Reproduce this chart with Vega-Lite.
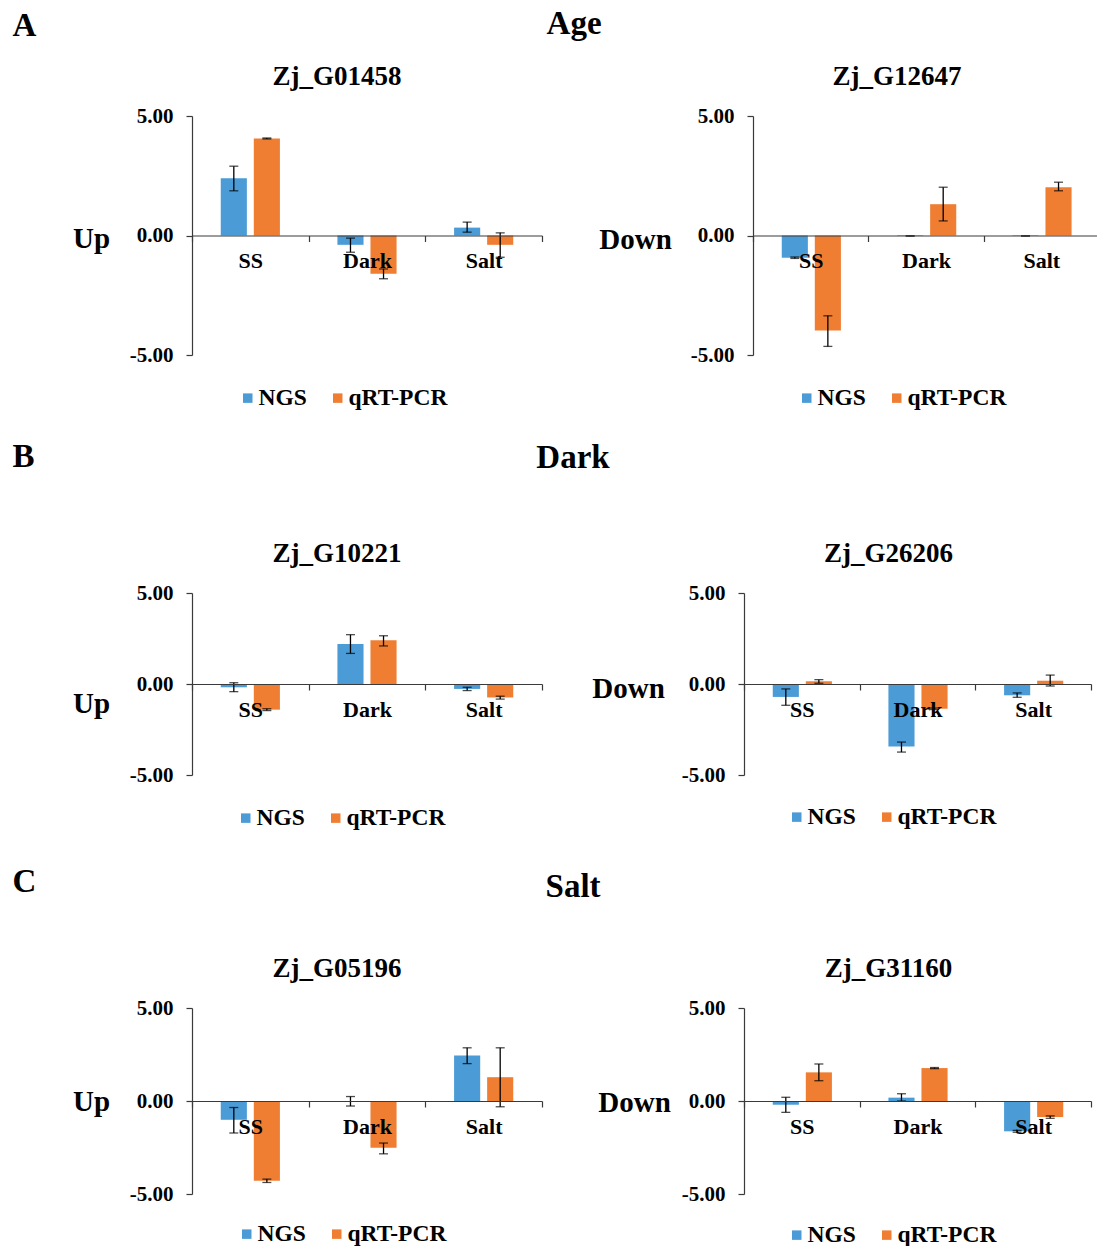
{
  "$schema": "https://vega.github.io/schema/vega-lite/v6.json",
  "background": "white",
  "padding": {"left": 12, "top": 8, "right": 0, "bottom": 0},
  "config": {
    "font": "Liberation Serif",
    "view": {"stroke": null},
    "title": {"font": "Liberation Serif", "fontWeight": "bold", "color": "black"},
    "axis": {
      "labelFont": "Liberation Serif", "labelFontWeight": "bold", "labelColor": "black",
      "titleFont": "Liberation Serif", "titleFontWeight": "bold", "titleColor": "black",
      "domainColor": "#3a3a3a", "tickColor": "#3a3a3a", "domainWidth": 1.2, "tickWidth": 1.2, "grid": false
    },
    "legend": {
      "labelFont": "Liberation Serif", "labelFontWeight": "bold", "labelColor": "black", "labelFontSize": 23.5,
      "symbolType": "square", "symbolSize": 90, "symbolStrokeWidth": 0, "labelOffset": -1, "columnPadding": 19
    }
  },
  "datasets": {
    "g01458": [
      {"cond": "SS", "series": "NGS", "value": 2.40, "lo": 1.87, "hi": 2.90},
      {"cond": "SS", "series": "qRT-PCR", "value": 4.06, "lo": 4.04, "hi": 4.08},
      {"cond": "Dark", "series": "NGS", "value": -0.39, "lo": -0.70, "hi": -0.11},
      {"cond": "Dark", "series": "qRT-PCR", "value": -1.60, "lo": -1.81, "hi": -1.40},
      {"cond": "Salt", "series": "NGS", "value": 0.33, "lo": 0.14, "hi": 0.56},
      {"cond": "Salt", "series": "qRT-PCR", "value": -0.39, "lo": -0.91, "hi": 0.11}
    ],
    "g12647": [
      {"cond": "SS", "series": "NGS", "value": -0.93, "lo": -0.96, "hi": -0.90},
      {"cond": "SS", "series": "qRT-PCR", "value": -3.97, "lo": -4.64, "hi": -3.36},
      {"cond": "Dark", "series": "NGS", "value": -0.02, "lo": -0.03, "hi": -0.01},
      {"cond": "Dark", "series": "qRT-PCR", "value": 1.31, "lo": 0.61, "hi": 2.02},
      {"cond": "Salt", "series": "NGS", "value": -0.02, "lo": -0.03, "hi": -0.01},
      {"cond": "Salt", "series": "qRT-PCR", "value": 2.02, "lo": 1.87, "hi": 2.23}
    ],
    "g10221": [
      {"cond": "SS", "series": "NGS", "value": -0.18, "lo": -0.42, "hi": 0.07},
      {"cond": "SS", "series": "qRT-PCR", "value": -1.41, "lo": -1.46, "hi": -1.36},
      {"cond": "Dark", "series": "NGS", "value": 2.20, "lo": 1.68, "hi": 2.71},
      {"cond": "Dark", "series": "qRT-PCR", "value": 2.40, "lo": 2.09, "hi": 2.65},
      {"cond": "Salt", "series": "NGS", "value": -0.27, "lo": -0.36, "hi": -0.18},
      {"cond": "Salt", "series": "qRT-PCR", "value": -0.74, "lo": -0.83, "hi": -0.67}
    ],
    "g26206": [
      {"cond": "SS", "series": "NGS", "value": -0.71, "lo": -1.17, "hi": -0.27},
      {"cond": "SS", "series": "qRT-PCR", "value": 0.15, "lo": 0.04, "hi": 0.24},
      {"cond": "Dark", "series": "NGS", "value": -3.44, "lo": -3.74, "hi": -3.19},
      {"cond": "Dark", "series": "qRT-PCR", "value": -1.36, "lo": -1.40, "hi": -1.32},
      {"cond": "Salt", "series": "NGS", "value": -0.62, "lo": -0.73, "hi": -0.49},
      {"cond": "Salt", "series": "qRT-PCR", "value": 0.18, "lo": -0.11, "hi": 0.49}
    ],
    "g05196": [
      {"cond": "SS", "series": "NGS", "value": -1.01, "lo": -1.72, "hi": -0.35},
      {"cond": "SS", "series": "qRT-PCR", "value": -4.29, "lo": -4.38, "hi": -4.20},
      {"cond": "Dark", "series": "NGS", "value": -0.02, "lo": -0.27, "hi": 0.24},
      {"cond": "Dark", "series": "qRT-PCR", "value": -2.51, "lo": -2.84, "hi": -2.26},
      {"cond": "Salt", "series": "NGS", "value": 2.44, "lo": 2.01, "hi": 2.86},
      {"cond": "Salt", "series": "qRT-PCR", "value": 1.28, "lo": -0.31, "hi": 2.86}
    ],
    "g31160": [
      {"cond": "SS", "series": "NGS", "value": -0.20, "lo": -0.61, "hi": 0.20},
      {"cond": "SS", "series": "qRT-PCR", "value": 1.54, "lo": 1.09, "hi": 1.99},
      {"cond": "Dark", "series": "NGS", "value": 0.18, "lo": 0.00, "hi": 0.39},
      {"cond": "Dark", "series": "qRT-PCR", "value": 1.77, "lo": 1.74, "hi": 1.80},
      {"cond": "Salt", "series": "NGS", "value": -1.63, "lo": -1.68, "hi": -1.58},
      {"cond": "Salt", "series": "qRT-PCR", "value": -0.86, "lo": -0.93, "hi": -0.80}
    ]
  },
  "spacing": 31,
  "resolve": {"scale": {"color": "independent", "x": "independent", "y": "independent"}, "legend": {"color": "independent"}},
  "vconcat": [
    {
      "title": {"text": "A", "anchor": "start", "fontSize": 33, "dx": -60, "dy": 35, "offset": 0},
      "resolve": {"scale": {"color": "independent", "x": "independent", "y": "independent"}, "legend": {"color": "independent"}},
      "vconcat": [
        {
          "title": {"text": "Age", "anchor": "middle", "fontSize": 33, "dx": -12, "offset": 22},
          "spacing": 55,
          "resolve": {"scale": {"color": "independent", "x": "independent", "y": "independent"}, "legend": {"color": "independent"}},
          "hconcat": [
            {
              "width": 350, "height": 239,
              "title": {"text": "Zj_G01458", "fontSize": 27, "dx": -30, "offset": 14, "anchor": "middle"},
              "data": {"name": "g01458"},
              "layer": [
                {"mark": {"type": "bar"}, "encoding": {
                  "x": {"field": "cond", "type": "nominal", "sort": ["SS", "Dark", "Salt"], "scale": {"paddingInner": 0, "paddingOuter": 0},
                        "axis": {"title": null, "orient": "bottom", "offset": -119.5, "labelAngle": 0, "labelFontSize": 22, "tickBand": "extent", "tickSize": 6, "labelPadding": 9, "zindex": 1}},
                  "xOffset": {"field": "series", "type": "nominal", "sort": ["NGS", "qRT-PCR"], "scale": {"paddingInner": 0.21, "paddingOuter": 0.87}},
                  "y": {"field": "value", "type": "quantitative", "title": "Up", "scale": {"domain": [-5, 5], "nice": false, "zero": false},
                        "axis": {"values": [-5, 0, 5], "format": ".2f", "labelExpr": "replace(datum.label, '−', '-')", "labelFontSize": 21, "labelPadding": 13, "tickSize": 6, "titleAngle": 0, "titleFontSize": 29, "titleX": -101, "titleY": 122, "titleAlign": "center", "titleBaseline": "middle"}},
                  "color": {"field": "series", "type": "nominal", "scale": {"domain": ["NGS", "qRT-PCR"], "range": ["#4B9BD6", "#EF7E33"]},
                            "legend": {"title": null, "orient": "none", "direction": "horizontal", "legendX": 44, "legendY": 270}}
                }},
                {"mark": {"type": "rule", "color": "black", "strokeWidth": 1.3}, "encoding": {
                  "x": {"field": "cond", "type": "nominal", "sort": ["SS", "Dark", "Salt"]},
                  "xOffset": {"field": "series", "type": "nominal", "sort": ["NGS", "qRT-PCR"]},
                  "y": {"field": "lo", "type": "quantitative", "title": "Up"}, "y2": {"field": "hi"}}},
                {"mark": {"type": "tick", "color": "black", "thickness": 1.3, "size": 9}, "encoding": {
                  "x": {"field": "cond", "type": "nominal", "sort": ["SS", "Dark", "Salt"]},
                  "xOffset": {"field": "series", "type": "nominal", "sort": ["NGS", "qRT-PCR"]},
                  "y": {"field": "lo", "type": "quantitative", "title": "Up"}}},
                {"mark": {"type": "tick", "color": "black", "thickness": 1.3, "size": 9}, "encoding": {
                  "x": {"field": "cond", "type": "nominal", "sort": ["SS", "Dark", "Salt"]},
                  "xOffset": {"field": "series", "type": "nominal", "sort": ["NGS", "qRT-PCR"]},
                  "y": {"field": "hi", "type": "quantitative", "title": "Up"}}}
              ]
            },
            {
              "width": 346, "height": 239,
              "title": {"text": "Zj_G12647", "fontSize": 27, "dx": -29, "offset": 14, "anchor": "middle"},
              "data": {"name": "g12647"},
              "layer": [
                {"mark": {"type": "bar"}, "encoding": {
                  "x": {"field": "cond", "type": "nominal", "sort": ["SS", "Dark", "Salt"], "scale": {"paddingInner": 0, "paddingOuter": 0},
                        "axis": {"title": null, "orient": "bottom", "offset": -119.5, "labelAngle": 0, "labelFontSize": 22, "tickBand": "extent", "tickSize": 6, "labelPadding": 9, "zindex": 1}},
                  "xOffset": {"field": "series", "type": "nominal", "sort": ["NGS", "qRT-PCR"], "scale": {"paddingInner": 0.21, "paddingOuter": 0.87}},
                  "y": {"field": "value", "type": "quantitative", "title": "Down", "scale": {"domain": [-5, 5], "nice": false, "zero": false},
                        "axis": {"values": [-5, 0, 5], "format": ".2f", "labelExpr": "replace(datum.label, '−', '-')", "labelFontSize": 21, "labelPadding": 13, "tickSize": 6, "titleAngle": 0, "titleFontSize": 29, "titleX": -118, "titleY": 123, "titleAlign": "center", "titleBaseline": "middle"}},
                  "color": {"field": "series", "type": "nominal", "scale": {"domain": ["NGS", "qRT-PCR"], "range": ["#4B9BD6", "#EF7E33"]},
                            "legend": {"title": null, "orient": "none", "direction": "horizontal", "legendX": 42, "legendY": 270}}
                }},
                {"mark": {"type": "rule", "color": "black", "strokeWidth": 1.3}, "encoding": {
                  "x": {"field": "cond", "type": "nominal", "sort": ["SS", "Dark", "Salt"]},
                  "xOffset": {"field": "series", "type": "nominal", "sort": ["NGS", "qRT-PCR"]},
                  "y": {"field": "lo", "type": "quantitative", "title": "Down"}, "y2": {"field": "hi"}}},
                {"mark": {"type": "tick", "color": "black", "thickness": 1.3, "size": 9}, "encoding": {
                  "x": {"field": "cond", "type": "nominal", "sort": ["SS", "Dark", "Salt"]},
                  "xOffset": {"field": "series", "type": "nominal", "sort": ["NGS", "qRT-PCR"]},
                  "y": {"field": "lo", "type": "quantitative", "title": "Down"}}},
                {"mark": {"type": "tick", "color": "black", "thickness": 1.3, "size": 9}, "encoding": {
                  "x": {"field": "cond", "type": "nominal", "sort": ["SS", "Dark", "Salt"]},
                  "xOffset": {"field": "series", "type": "nominal", "sort": ["NGS", "qRT-PCR"]},
                  "y": {"field": "hi", "type": "quantitative", "title": "Down"}}}
              ]
            }
          ]
        }
      ]
    },
    {
      "title": {"text": "B", "anchor": "start", "fontSize": 33, "dx": -60, "dy": 32, "offset": 0},
      "resolve": {"scale": {"color": "independent", "x": "independent", "y": "independent"}, "legend": {"color": "independent"}},
      "vconcat": [
        {
          "title": {"text": "Dark", "anchor": "middle", "fontSize": 33, "dx": -9, "offset": 65},
          "spacing": 48,
          "resolve": {"scale": {"color": "independent", "x": "independent", "y": "independent"}, "legend": {"color": "independent"}},
          "hconcat": [
            {
              "width": 350, "height": 182,
              "title": {"text": "Zj_G10221", "fontSize": 27, "dx": -30, "offset": 14, "anchor": "middle"},
              "data": {"name": "g10221"},
              "layer": [
                {"mark": {"type": "bar"}, "encoding": {
                  "x": {"field": "cond", "type": "nominal", "sort": ["SS", "Dark", "Salt"], "scale": {"paddingInner": 0, "paddingOuter": 0},
                        "axis": {"title": null, "orient": "bottom", "offset": -91, "labelAngle": 0, "labelFontSize": 22, "tickBand": "extent", "tickSize": 6, "labelPadding": 9, "zindex": 1}},
                  "xOffset": {"field": "series", "type": "nominal", "sort": ["NGS", "qRT-PCR"], "scale": {"paddingInner": 0.21, "paddingOuter": 0.87}},
                  "y": {"field": "value", "type": "quantitative", "title": "Up", "scale": {"domain": [-5, 5], "nice": false, "zero": false},
                        "axis": {"values": [-5, 0, 5], "format": ".2f", "labelExpr": "replace(datum.label, '−', '-')", "labelFontSize": 21, "labelPadding": 13, "tickSize": 6, "titleAngle": 0, "titleFontSize": 29, "titleX": -101, "titleY": 110, "titleAlign": "center", "titleBaseline": "middle"}},
                  "color": {"field": "series", "type": "nominal", "scale": {"domain": ["NGS", "qRT-PCR"], "range": ["#4B9BD6", "#EF7E33"]},
                            "legend": {"title": null, "orient": "none", "direction": "horizontal", "padding": 5, "legendX": 37, "legendY": 208}}
                }},
                {"mark": {"type": "rule", "color": "black", "strokeWidth": 1.3}, "encoding": {
                  "x": {"field": "cond", "type": "nominal", "sort": ["SS", "Dark", "Salt"]},
                  "xOffset": {"field": "series", "type": "nominal", "sort": ["NGS", "qRT-PCR"]},
                  "y": {"field": "lo", "type": "quantitative", "title": "Up"}, "y2": {"field": "hi"}}},
                {"mark": {"type": "tick", "color": "black", "thickness": 1.3, "size": 9}, "encoding": {
                  "x": {"field": "cond", "type": "nominal", "sort": ["SS", "Dark", "Salt"]},
                  "xOffset": {"field": "series", "type": "nominal", "sort": ["NGS", "qRT-PCR"]},
                  "y": {"field": "lo", "type": "quantitative", "title": "Up"}}},
                {"mark": {"type": "tick", "color": "black", "thickness": 1.3, "size": 9}, "encoding": {
                  "x": {"field": "cond", "type": "nominal", "sort": ["SS", "Dark", "Salt"]},
                  "xOffset": {"field": "series", "type": "nominal", "sort": ["NGS", "qRT-PCR"]},
                  "y": {"field": "hi", "type": "quantitative", "title": "Up"}}}
              ]
            },
            {
              "width": 347, "height": 182,
              "title": {"text": "Zj_G26206", "fontSize": 27, "dx": -29, "offset": 14, "anchor": "middle"},
              "data": {"name": "g26206"},
              "layer": [
                {"mark": {"type": "bar"}, "encoding": {
                  "x": {"field": "cond", "type": "nominal", "sort": ["SS", "Dark", "Salt"], "scale": {"paddingInner": 0, "paddingOuter": 0},
                        "axis": {"title": null, "orient": "bottom", "offset": -91, "labelAngle": 0, "labelFontSize": 22, "tickBand": "extent", "tickSize": 6, "labelPadding": 9, "zindex": 1}},
                  "xOffset": {"field": "series", "type": "nominal", "sort": ["NGS", "qRT-PCR"], "scale": {"paddingInner": 0.21, "paddingOuter": 0.87}},
                  "y": {"field": "value", "type": "quantitative", "title": "Down", "scale": {"domain": [-5, 5], "nice": false, "zero": false},
                        "axis": {"values": [-5, 0, 5], "format": ".2f", "labelExpr": "replace(datum.label, '−', '-')", "labelFontSize": 21, "labelPadding": 13, "tickSize": 6, "titleAngle": 0, "titleFontSize": 29, "titleX": -116, "titleY": 95, "titleAlign": "center", "titleBaseline": "middle"}},
                  "color": {"field": "series", "type": "nominal", "scale": {"domain": ["NGS", "qRT-PCR"], "range": ["#4B9BD6", "#EF7E33"]},
                            "legend": {"title": null, "orient": "none", "direction": "horizontal", "padding": 5, "legendX": 36, "legendY": 207}}
                }},
                {"mark": {"type": "rule", "color": "black", "strokeWidth": 1.3}, "encoding": {
                  "x": {"field": "cond", "type": "nominal", "sort": ["SS", "Dark", "Salt"]},
                  "xOffset": {"field": "series", "type": "nominal", "sort": ["NGS", "qRT-PCR"]},
                  "y": {"field": "lo", "type": "quantitative", "title": "Down"}, "y2": {"field": "hi"}}},
                {"mark": {"type": "tick", "color": "black", "thickness": 1.3, "size": 9}, "encoding": {
                  "x": {"field": "cond", "type": "nominal", "sort": ["SS", "Dark", "Salt"]},
                  "xOffset": {"field": "series", "type": "nominal", "sort": ["NGS", "qRT-PCR"]},
                  "y": {"field": "lo", "type": "quantitative", "title": "Down"}}},
                {"mark": {"type": "tick", "color": "black", "thickness": 1.3, "size": 9}, "encoding": {
                  "x": {"field": "cond", "type": "nominal", "sort": ["SS", "Dark", "Salt"]},
                  "xOffset": {"field": "series", "type": "nominal", "sort": ["NGS", "qRT-PCR"]},
                  "y": {"field": "hi", "type": "quantitative", "title": "Down"}}}
              ]
            }
          ]
        }
      ]
    },
    {
      "title": {"text": "C", "anchor": "start", "fontSize": 33, "dx": -60, "dy": 28, "offset": 0},
      "resolve": {"scale": {"color": "independent", "x": "independent", "y": "independent"}, "legend": {"color": "independent"}},
      "vconcat": [
        {
          "title": {"text": "Salt", "anchor": "middle", "fontSize": 33, "dx": -9, "offset": 51},
          "spacing": 54,
          "resolve": {"scale": {"color": "independent", "x": "independent", "y": "independent"}, "legend": {"color": "independent"}},
          "hconcat": [
            {
              "width": 350, "height": 186,
              "title": {"text": "Zj_G05196", "fontSize": 27, "dx": -30, "offset": 14, "anchor": "middle"},
              "data": {"name": "g05196"},
              "layer": [
                {"mark": {"type": "bar"}, "encoding": {
                  "x": {"field": "cond", "type": "nominal", "sort": ["SS", "Dark", "Salt"], "scale": {"paddingInner": 0, "paddingOuter": 0},
                        "axis": {"title": null, "orient": "bottom", "offset": -93, "labelAngle": 0, "labelFontSize": 22, "tickBand": "extent", "tickSize": 6, "labelPadding": 9, "zindex": 1}},
                  "xOffset": {"field": "series", "type": "nominal", "sort": ["NGS", "qRT-PCR"], "scale": {"paddingInner": 0.21, "paddingOuter": 0.87}},
                  "y": {"field": "value", "type": "quantitative", "title": "Up", "scale": {"domain": [-5, 5], "nice": false, "zero": false},
                        "axis": {"values": [-5, 0, 5], "format": ".2f", "labelExpr": "replace(datum.label, '−', '-')", "labelFontSize": 21, "labelPadding": 13, "tickSize": 6, "titleAngle": 0, "titleFontSize": 29, "titleX": -101, "titleY": 93, "titleAlign": "center", "titleBaseline": "middle"}},
                  "color": {"field": "series", "type": "nominal", "scale": {"domain": ["NGS", "qRT-PCR"], "range": ["#4B9BD6", "#EF7E33"]},
                            "legend": {"title": null, "orient": "none", "direction": "horizontal", "legendX": 43, "legendY": 214}}
                }},
                {"mark": {"type": "rule", "color": "black", "strokeWidth": 1.3}, "encoding": {
                  "x": {"field": "cond", "type": "nominal", "sort": ["SS", "Dark", "Salt"]},
                  "xOffset": {"field": "series", "type": "nominal", "sort": ["NGS", "qRT-PCR"]},
                  "y": {"field": "lo", "type": "quantitative", "title": "Up"}, "y2": {"field": "hi"}}},
                {"mark": {"type": "tick", "color": "black", "thickness": 1.3, "size": 9}, "encoding": {
                  "x": {"field": "cond", "type": "nominal", "sort": ["SS", "Dark", "Salt"]},
                  "xOffset": {"field": "series", "type": "nominal", "sort": ["NGS", "qRT-PCR"]},
                  "y": {"field": "lo", "type": "quantitative", "title": "Up"}}},
                {"mark": {"type": "tick", "color": "black", "thickness": 1.3, "size": 9}, "encoding": {
                  "x": {"field": "cond", "type": "nominal", "sort": ["SS", "Dark", "Salt"]},
                  "xOffset": {"field": "series", "type": "nominal", "sort": ["NGS", "qRT-PCR"]},
                  "y": {"field": "hi", "type": "quantitative", "title": "Up"}}}
              ]
            },
            {
              "width": 347, "height": 186,
              "title": {"text": "Zj_G31160", "fontSize": 27, "dx": -29, "offset": 14, "anchor": "middle"},
              "data": {"name": "g31160"},
              "layer": [
                {"mark": {"type": "bar"}, "encoding": {
                  "x": {"field": "cond", "type": "nominal", "sort": ["SS", "Dark", "Salt"], "scale": {"paddingInner": 0, "paddingOuter": 0},
                        "axis": {"title": null, "orient": "bottom", "offset": -93, "labelAngle": 0, "labelFontSize": 22, "tickBand": "extent", "tickSize": 6, "labelPadding": 9, "zindex": 1}},
                  "xOffset": {"field": "series", "type": "nominal", "sort": ["NGS", "qRT-PCR"], "scale": {"paddingInner": 0.21, "paddingOuter": 0.87}},
                  "y": {"field": "value", "type": "quantitative", "title": "Down", "scale": {"domain": [-5, 5], "nice": false, "zero": false},
                        "axis": {"values": [-5, 0, 5], "format": ".2f", "labelExpr": "replace(datum.label, '−', '-')", "labelFontSize": 21, "labelPadding": 13, "tickSize": 6, "titleAngle": 0, "titleFontSize": 29, "titleX": -110, "titleY": 94, "titleAlign": "center", "titleBaseline": "middle"}},
                  "color": {"field": "series", "type": "nominal", "scale": {"domain": ["NGS", "qRT-PCR"], "range": ["#4B9BD6", "#EF7E33"]},
                            "legend": {"title": null, "orient": "none", "direction": "horizontal", "legendX": 41, "legendY": 215}}
                }},
                {"mark": {"type": "rule", "color": "black", "strokeWidth": 1.3}, "encoding": {
                  "x": {"field": "cond", "type": "nominal", "sort": ["SS", "Dark", "Salt"]},
                  "xOffset": {"field": "series", "type": "nominal", "sort": ["NGS", "qRT-PCR"]},
                  "y": {"field": "lo", "type": "quantitative", "title": "Down"}, "y2": {"field": "hi"}}},
                {"mark": {"type": "tick", "color": "black", "thickness": 1.3, "size": 9}, "encoding": {
                  "x": {"field": "cond", "type": "nominal", "sort": ["SS", "Dark", "Salt"]},
                  "xOffset": {"field": "series", "type": "nominal", "sort": ["NGS", "qRT-PCR"]},
                  "y": {"field": "lo", "type": "quantitative", "title": "Down"}}},
                {"mark": {"type": "tick", "color": "black", "thickness": 1.3, "size": 9}, "encoding": {
                  "x": {"field": "cond", "type": "nominal", "sort": ["SS", "Dark", "Salt"]},
                  "xOffset": {"field": "series", "type": "nominal", "sort": ["NGS", "qRT-PCR"]},
                  "y": {"field": "hi", "type": "quantitative", "title": "Down"}}}
              ]
            }
          ]
        }
      ]
    }
  ]
}
